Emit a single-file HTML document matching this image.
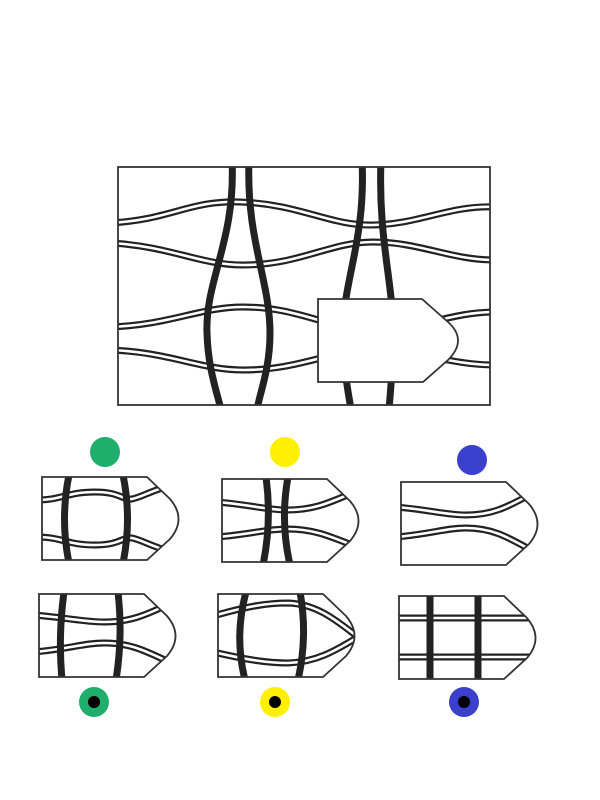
<!DOCTYPE html>
<html><head><meta charset="utf-8"><style>
html,body{margin:0;padding:0;background:#fff;width:600px;height:800px;overflow:hidden}
svg{display:block}
.dbl1{fill:none;stroke:#222;stroke-width:7}
.dbl2{fill:none;stroke:#fff;stroke-width:2.6}
.thick{fill:none;stroke:#222;stroke-width:7}
.frame{fill:none;stroke:#333;stroke-width:1.8}
</style></head><body>
<svg width="600" height="800" viewBox="0 0 600 800">
<defs>
<clipPath id="mainclip"><rect x="118" y="167" width="372" height="238"/></clipPath>
<clipPath id="pent"><path d="M0,0 H105 L128,22 Q145,42 128,62 L105,83 H0 Z"/></clipPath>
<path id="h1" d="M110,223 C170,220 190,200 240,202 C300,204 330,226 373,225 C420,224 450,205 495,207"/>
<path id="h2" d="M110,243 C170,246 200,265 243,265 C300,265 330,242 373,242 C420,242 450,260 495,260"/>
<path id="h3" d="M110,327 C170,325 200,307 243,307 C300,307 330,330 373,330 C420,330 450,312 495,312"/>
<path id="h4" d="M110,350 C170,352 200,370 243,370 C300,370 330,350 373,350 C420,350 450,365 495,365"/>
<path id="o1a" d="M-5,23 C20,23 25,15 53,15 C78,15 80,23 90,22 C100,20 108,14 130,8"/>
<path id="o1b" d="M-5,60 C20,60 25,68 53,68 C78,68 80,60 90,61 C100,63 108,69 130,75"/>
<path id="o2a" d="M-5,23 C30,26 45,31 65,31 C90,31 105,25 130,14"/>
<path id="o2b" d="M-5,58 C30,55 45,50 65,50 C90,50 105,56 130,66"/>
<path id="o3a" d="M-5,25 C30,28 45,33 65,33 C90,33 105,26 130,12"/>
<path id="o3b" d="M-5,55 C30,52 45,46 65,46 C90,46 105,54 130,68"/>
<path id="o4a" d="M-5,21 C30,24 45,28 65,28 C90,28 105,22 130,10"/>
<path id="o4b" d="M-5,58 C30,55 45,49 65,49 C90,49 105,56 130,68"/>
<path id="o5a" d="M-5,22 C30,12 50,9 70,9 C100,10 120,28 140,43"/>
<path id="o5b" d="M-5,58 C30,66 50,69 70,69 C100,68 120,55 140,43"/>
<path id="o6a" d="M-5,22 H145"/>
<path id="o6b" d="M-5,61 H145"/>
</defs>

<g>
<rect x="118" y="167" width="372" height="238" fill="#fff"/>
<g clip-path="url(#mainclip)">
 <g>
 <use href="#h1" class="dbl1"/><use href="#h1" class="dbl2"/>
 <use href="#h2" class="dbl1"/><use href="#h2" class="dbl2"/>
 <use href="#h3" class="dbl1"/><use href="#h3" class="dbl2"/>
 <use href="#h4" class="dbl1"/><use href="#h4" class="dbl2"/>
 </g>
 <path class="thick" d="M232,160 C236,240 205,280 207,333 C208,370 218,395 221,410"/>
 <path class="thick" d="M249,160 C246,240 270,280 270,333 C270,370 259,395 257,410"/>
 <path class="thick" d="M362,160 C366,240 343,280 343,333 C343,370 349,395 351,410"/>
 <path class="thick" d="M381,160 C378,240 393,280 393,333 C393,370 390,395 389,410"/>
</g>
<rect class="frame" x="118" y="167" width="372" height="238"/>
<path d="M318,299 H422 L448,322 Q468,340 448,360 L423,382 H318 Z" fill="#fff" stroke="#333" stroke-width="1.8"/>
</g>

<g transform="translate(42,477)">
 <g clip-path="url(#pent)">
  <use href="#o1a" class="dbl1"/><use href="#o1a" class="dbl2"/>
  <use href="#o1b" class="dbl1"/><use href="#o1b" class="dbl2"/>
  <path class="thick" d="M27,-2 Q18,42 27,86"/>
  <path class="thick" d="M81,-2 Q90,42 81,86"/>
 </g>
 <path class="frame" d="M0,0 H105 L128,22 Q145,42 128,62 L105,83 H0 Z"/>
</g>

<g transform="translate(222,479)">
 <g clip-path="url(#pent)">
  <use href="#o2a" class="dbl1"/><use href="#o2a" class="dbl2"/>
  <use href="#o2b" class="dbl1"/><use href="#o2b" class="dbl2"/>
  <path class="thick" d="M44,-2 Q50,42 41,86"/>
  <path class="thick" d="M66,-2 Q58,42 68,86"/>
 </g>
 <path class="frame" d="M0,0 H105 L128,22 Q145,42 128,62 L105,83 H0 Z"/>
</g>

<g transform="translate(401,482)">
 <g clip-path="url(#pent)">
  <use href="#o3a" class="dbl1"/><use href="#o3a" class="dbl2"/>
  <use href="#o3b" class="dbl1"/><use href="#o3b" class="dbl2"/>
 </g>
 <path class="frame" d="M0,0 H105 L128,22 Q145,42 128,62 L105,83 H0 Z"/>
</g>

<g transform="translate(39,594)">
 <g clip-path="url(#pent)">
  <use href="#o4a" class="dbl1"/><use href="#o4a" class="dbl2"/>
  <use href="#o4b" class="dbl1"/><use href="#o4b" class="dbl2"/>
  <path class="thick" d="M25,-2 Q19,42 23,86"/>
  <path class="thick" d="M79,-2 Q84,42 77,86"/>
 </g>
 <path class="frame" d="M0,0 H105 L128,22 Q145,42 128,62 L105,83 H0 Z"/>
</g>

<g transform="translate(218,594)">
 <g clip-path="url(#pent)">
  <use href="#o5a" class="dbl1"/><use href="#o5a" class="dbl2"/>
  <use href="#o5b" class="dbl1"/><use href="#o5b" class="dbl2"/>
  <path class="thick" d="M28,-2 Q16,42 27,86"/>
  <path class="thick" d="M82,-2 Q90,42 80,86"/>
 </g>
 <path class="frame" d="M0,0 H105 L128,22 Q145,42 128,62 L105,83 H0 Z"/>
</g>

<g transform="translate(399,596)">
 <g clip-path="url(#pent)">
  <use href="#o6a" class="dbl1"/><use href="#o6a" class="dbl2"/>
  <use href="#o6b" class="dbl1"/><use href="#o6b" class="dbl2"/>
  <path class="thick" d="M31,-2 V86"/>
  <path class="thick" d="M79,-2 V86"/>
 </g>
 <path class="frame" d="M0,0 H105 L128,22 Q145,42 128,62 L105,83 H0 Z"/>
</g>

<circle cx="105" cy="452" r="15" fill="#1fae6c"/>
<circle cx="285" cy="452" r="15" fill="#fff000"/>
<circle cx="472" cy="460" r="15" fill="#3b40cc"/>
<g><circle cx="94" cy="702" r="15" fill="#1fae6c"/><circle cx="94" cy="702" r="6" fill="#000"/></g>
<g><circle cx="275" cy="702" r="15" fill="#fff000"/><circle cx="275" cy="702" r="6" fill="#000"/></g>
<g><circle cx="464" cy="702" r="15" fill="#3b40cc"/><circle cx="464" cy="702" r="6" fill="#000"/></g>
</svg>
</body></html>
